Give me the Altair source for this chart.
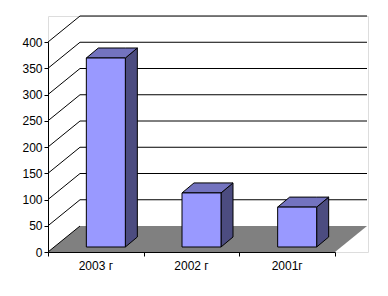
import altair as alt
import pandas as pd

# ---- data ----
categories = ["2003 г", "2002 г", "2001г"]
values = [360, 103, 76]
y_ticks = [0, 50, 100, 150, 200, 250, 300, 350, 400]

# ---- style / geometry constants (pixels) ----
FRONT_W = 287          # front x extent of the category axis
FRONT_H = 210          # front y extent of 0..400
PXX = FRONT_W / len(categories)
PXY = FRONT_H / 400
WALL_DX, WALL_DY = 32, 26     # back-wall depth offset
BAR_DX, BAR_DY = 12, 10       # bar depth
BAR_SHIFT_X, BAR_SHIFT_Y = 10, -5
BAR_HALF = 19.5

n = len(categories)
hw = BAR_HALF / PXX
ddx = BAR_DX / PXX
ddy = BAR_DY / PXY
dxw = WALL_DX / PXX
dyw = WALL_DY / PXY

FONT = "Liberation Sans"

xs = alt.Scale(domain=[0, n], range=[0, FRONT_W])
ys = alt.Scale(domain=[0, 400], range=[236, 236 - FRONT_H])
X_AXIS = alt.Axis(values=list(range(n + 1)), labels=False, title=None, grid=False,
                  tickSize=4, domainColor="black", tickColor="black", zindex=1)
Y_AXIS = alt.Axis(values=y_ticks, title=None, grid=False, tickSize=4, labelPadding=2,
                  domainColor="black", tickColor="black", labelFont=FONT,
                  labelFontSize=12, labelColor="black", zindex=1)


def X(f):
    return alt.X(f, scale=xs, axis=X_AXIS)


def Y(f, **kw):
    return alt.Y(f, scale=ys, axis=Y_AXIS, **kw)


# back-wall gridlines
grid_df = pd.DataFrame({"v": [t for t in y_ticks if t > 0], "x0": 0, "x1": n})
grid = alt.Chart(grid_df).mark_rule(
    color="black", strokeWidth=1, xOffset=WALL_DX, x2Offset=WALL_DX, yOffset=-WALL_DY
).encode(x=X("x0:Q"), x2="x1:Q", y=Y("v:Q"))

# floor
floor_df = pd.DataFrame({
    "x": [0, dxw, n, n + dxw],
    "lo": [0, 0, 0, dyw],
    "hi": [0, dyw, dyw, dyw],
})
floor = alt.Chart(floor_df).mark_area(fill="#808080", interpolate="linear").encode(
    x=X("x:Q"), y=Y("lo:Q", stack=None), y2="hi:Q",
)

# diagonals from front ticks to back wall
diag_df = pd.DataFrame({"v": y_ticks, "x0": 0})
diag = alt.Chart(diag_df).mark_rule(
    color="black", strokeWidth=1, x2Offset=WALL_DX, y2Offset=-WALL_DY
).encode(x=X("x0:Q"), x2="x0:Q", y=Y("v:Q"), y2="v:Q")

# bars
front_rows, top_rows, side_rows = [], [], []
for i, v in enumerate(values):
    a = i + 0.5 - hw
    b = i + 0.5 + hw
    front_rows.append({"bar": i, "x0": a, "x1": b, "y0": 0, "y1": v})
    top_rows += [
        {"bar": i, "x": a, "lo": v, "hi": v},
        {"bar": i, "x": a + ddx, "lo": v, "hi": v + ddy},
        {"bar": i, "x": b, "lo": v, "hi": v + ddy},
        {"bar": i, "x": b + ddx, "lo": v + ddy, "hi": v + ddy},
    ]
    side_rows += [
        {"bar": i, "x": b, "lo": 0, "hi": v},
        {"bar": i, "x": b + ddx, "lo": ddy, "hi": v + ddy},
    ]

off = dict(xOffset=BAR_SHIFT_X, x2Offset=BAR_SHIFT_X,
           yOffset=BAR_SHIFT_Y, y2Offset=BAR_SHIFT_Y)

front = alt.Chart(pd.DataFrame(front_rows)).mark_rect(
    fill="#9999FF", stroke="black", strokeWidth=1, **off
).encode(x=X("x0:Q"), x2="x1:Q", y=Y("y0:Q"), y2="y1:Q")

top = alt.Chart(pd.DataFrame(top_rows)).mark_area(
    fill="#7373BF", stroke="black", strokeWidth=1, interpolate="linear", **off
).encode(x=X("x:Q"), y=Y("lo:Q", stack=None), y2="hi:Q", detail="bar:N")

side = alt.Chart(pd.DataFrame(side_rows)).mark_area(
    fill="#4C4C80", stroke="black", strokeWidth=1, interpolate="linear", **off
).encode(x=X("x:Q"), y=Y("lo:Q", stack=None), y2="hi:Q", detail="bar:N")

# category labels
lab_df = pd.DataFrame({"x": [i + 0.5 for i in range(n)], "label": categories})
labels = alt.Chart(lab_df).mark_text(
    font=FONT, fontSize=12, color="black", baseline="middle", align="center"
).encode(x=X("x:Q"), y=alt.value(250), text="label:N")

chart = alt.layer(grid, floor, diag, side, top, front, labels).properties(
    width=320, height=236,
    autosize=alt.AutoSizeParams(type="none"),
    padding={"left": 48, "top": 16, "right": 20, "bottom": 44},
).configure_view(stroke=None).configure(background="white")

chart.save("out.html", embed_options={"renderer": "svg", "actions": False})
